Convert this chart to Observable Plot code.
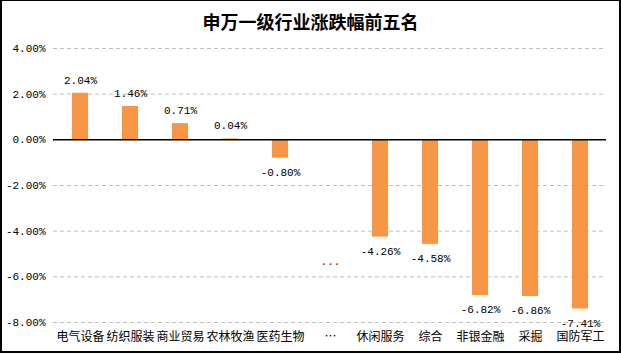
<!DOCTYPE html>
<html>
<head>
<meta charset="utf-8">
<script src="https://cdn.jsdelivr.net/npm/d3@7"></script>
<script src="https://cdn.jsdelivr.net/npm/@observablehq/plot@0.6"></script>
<style>
  body { margin: 0; background: #fff; }
  #wrap { position: relative; width: 621px; height: 354px; overflow: hidden; background: #fff; }
  #title { position: absolute; left: 0; top: 9px; width: 621px; text-align: center;
    font-family: "Noto Sans CJK SC", sans-serif; font-weight: bold; font-size: 18px; line-height: 24px; color: #000; }
  #frame { position: absolute; left: 0; top: 0; width: 621px; height: 353px; box-sizing: border-box;
    border-left: 2px solid #000; border-top: 1px solid #000; border-right: 2px solid #000; border-bottom: 2px solid #000; pointer-events: none; }
  #chart { position: absolute; left: 0; top: 0; }
</style>
</head>
<body>
<div id="wrap">
  <div id="chart"></div>
  <div id="title">申万一级行业涨跌幅前五名</div>
  <div id="frame"></div>
</div>
<script>
const categories = ["电气设备", "纺织服装", "商业贸易", "农林牧渔", "医药生物", "…", "休闲服务", "综合", "非银金融", "采掘", "国防军工"];
const values = [2.04, 1.46, 0.71, 0.04, -0.80, null, -4.26, -4.58, -6.82, -6.86, -7.41];
const yTicks = [-8, -6, -4, -2, 0, 2, 4];
const ellipsisCategory = "…";
const ellipsisValue = -5.45;

const data = categories.map((c, i) => ({cat: c, v: values[i]})).filter(d => d.v != null);
const pos = data.filter(d => d.v >= 0);
const neg = data.filter(d => d.v < 0);
const numFont = "Liberation Mono, DejaVu Sans Mono, monospace";
const cjkFont = "Noto Sans CJK SC, sans-serif";
const fmt = d => d.toFixed(2) + "%";

const chart = Plot.plot({
  width: 621,
  height: 354,
  marginTop: 48,
  marginBottom: 32,
  marginLeft: 53,
  marginRight: 15,
  style: {background: "transparent"},
  x: {domain: categories, paddingInner: 0.68, paddingOuter: 0.35, axis: null, label: null},
  y: {domain: [-8, 4], axis: null, label: null},
  marks: [
    Plot.ruleY(yTicks.filter(d => d !== 0), {stroke: "#bfbfbf", strokeDasharray: "4,3", strokeWidth: 1}),
    Plot.barY(data, {x: "cat", y: "v", fill: "#F79646"}),
    Plot.ruleY([0], {stroke: "#000", strokeWidth: 1.5}),
    Plot.text(pos, {x: "cat", y: "v", text: d => fmt(d.v), dy: -13, fontFamily: numFont, fontSize: 11, fill: "#000"}),
    Plot.text(neg, {x: "cat", y: "v", text: d => fmt(d.v), dy: 14, fontFamily: numFont, fontSize: 11, fill: "#000"}),
    Plot.text([{cat: ellipsisCategory, v: ellipsisValue}], {x: "cat", y: "v", text: () => "...", fontFamily: numFont, fontWeight: "bold", fontSize: 11, fill: "#993300", dy: -3}),
    Plot.axisY({ticks: yTicks, tickFormat: fmt, tickSize: 0, tickPadding: 8, label: null, fontFamily: numFont, fontSize: 11, fill: "#000"}),
    Plot.axisX({tickSize: 0, tickPadding: 10, label: null, fontFamily: cjkFont, fontSize: 12, fill: "#000"})
  ]
});
document.getElementById("chart").appendChild(chart);
</script>
</body>
</html>
